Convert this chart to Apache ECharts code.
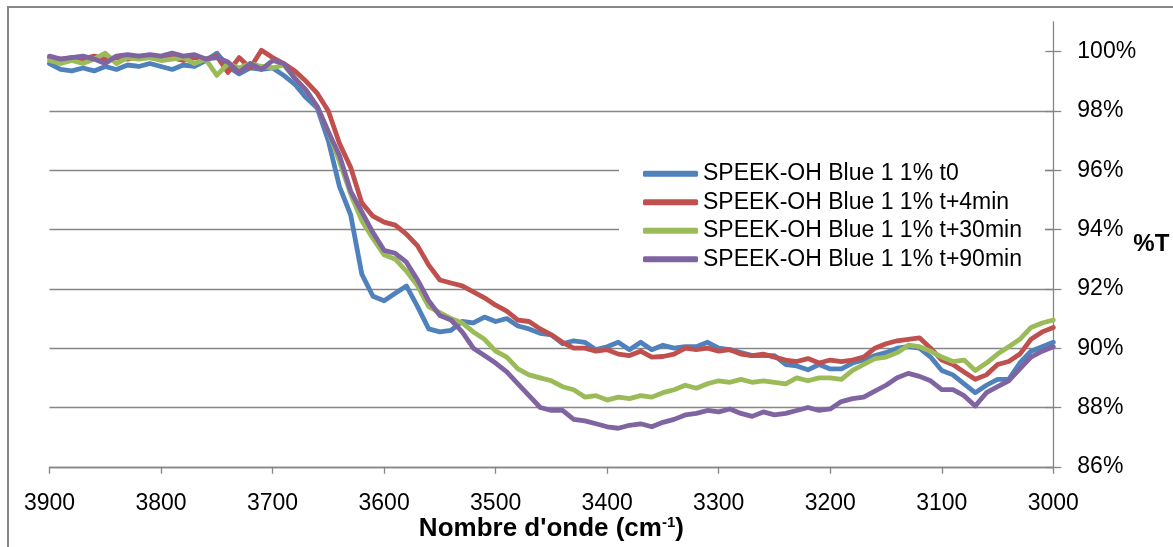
<!DOCTYPE html>
<html>
<head>
<meta charset="utf-8">
<script src="https://cdn.jsdelivr.net/npm/echarts@6/dist/echarts.min.js"></script>
<style>
  html, body { margin: 0; padding: 0; background: #fff; }
  #wrap { position: relative; width: 1173px; height: 547px; overflow: hidden; }
  #chart { position: absolute; left: 0; top: 0; width: 1173px; height: 547px; }
  #frame { position: absolute; left: 7px; top: 6px; width: 1200px; height: 600px;
           border-left: 2px solid #878787; border-top: 2px solid #878787; pointer-events: none; }
</style>
</head>
<body>
<div id="wrap"><div id="chart"></div><div id="frame"></div></div>
<script>
// Wavenumbers (cm-1)
const wavenumbers = [3900,3890,3880,3870,3860,3850,3840,3830,3820,3810,
  3800,3790,3780,3770,3760,3750,3740,3730,3720,3710,
  3700,3690,3680,3670,3660,3650,3640,3630,3620,3610,
  3600,3590,3580,3570,3560,3550,3540,3530,3520,3510,
  3500,3490,3480,3470,3460,3450,3440,3430,3420,3410,
  3400,3390,3380,3370,3360,3350,3340,3330,3320,3310,
  3300,3290,3280,3270,3260,3250,3240,3230,3220,3210,
  3200,3190,3180,3170,3160,3150,3140,3130,3120,3110,
  3100,3090,3080,3070,3060,3050,3040,3030,3020,3010,3000];

const seriesNames = ['SPEEK-OH Blue 1 1% t0','SPEEK-OH Blue 1 1% t+4min','SPEEK-OH Blue 1 1% t+30min','SPEEK-OH Blue 1 1% t+90min'];

const t0 = [99.6,99.4,99.35,99.45,99.35,99.5,99.4,99.55,99.5,99.6,
  99.5,99.4,99.55,99.5,99.7,99.95,99.5,99.25,99.45,99.4,
  99.45,99.2,98.9,98.45,98.1,97.0,95.45,94.5,92.5,91.75,
  91.6,91.85,92.1,91.4,90.65,90.55,90.6,90.9,90.85,91.05,
  90.9,91.0,90.75,90.65,90.5,90.45,90.15,90.25,90.2,89.95,
  90.05,90.2,89.95,90.2,89.95,90.1,90.0,90.05,90.05,90.2,
  90.0,89.95,89.85,89.75,89.75,89.75,89.45,89.4,89.27,89.45,
  89.3,89.3,89.5,89.6,89.75,89.85,90.0,90.05,90.0,89.7,
  89.25,89.1,88.8,88.5,88.75,88.95,88.95,89.5,89.9,90.05,90.2];

const t4 = [99.8,99.75,99.8,99.75,99.85,99.75,99.8,99.75,99.85,99.8,
  99.75,99.8,99.7,99.8,99.75,99.85,99.3,99.8,99.45,100.05,
  99.8,99.6,99.35,99.0,98.6,98.0,96.9,96.1,94.9,94.45,
  94.25,94.15,93.85,93.45,92.8,92.3,92.2,92.1,91.9,91.7,
  91.45,91.25,90.95,90.9,90.65,90.45,90.2,90.0,90.0,89.9,
  89.95,89.8,89.75,89.9,89.7,89.72,89.8,90.0,89.95,90.0,
  89.9,89.95,89.8,89.75,89.8,89.7,89.6,89.55,89.65,89.5,
  89.6,89.55,89.6,89.7,90.0,90.15,90.25,90.3,90.35,90.0,
  89.6,89.45,89.2,88.95,89.1,89.45,89.55,89.8,90.3,90.55,90.7];

const t30 = [99.7,99.6,99.7,99.6,99.75,99.95,99.6,99.8,99.75,99.8,
  99.7,99.75,99.8,99.6,99.75,99.2,99.6,99.45,99.6,99.5,
  99.45,99.55,99.1,98.7,98.15,97.3,96.3,95.2,94.3,93.7,
  93.15,93.0,92.6,92.1,91.4,91.2,91.0,90.85,90.55,90.3,
  89.9,89.7,89.3,89.1,89.0,88.9,88.7,88.6,88.35,88.4,
  88.25,88.35,88.3,88.4,88.35,88.5,88.6,88.75,88.65,88.8,
  88.9,88.85,88.95,88.85,88.9,88.85,88.8,89.0,88.9,89.0,
  89.0,88.95,89.25,89.45,89.65,89.7,89.85,90.1,90.05,89.9,
  89.7,89.55,89.6,89.25,89.5,89.8,90.05,90.3,90.7,90.85,90.95];

const t90 = [99.85,99.75,99.8,99.85,99.75,99.6,99.85,99.9,99.85,99.9,
  99.85,99.95,99.85,99.9,99.75,99.8,99.65,99.3,99.6,99.4,
  99.7,99.6,99.1,98.7,98.15,97.3,96.5,95.3,94.6,93.9,
  93.3,93.2,92.9,92.3,91.6,91.1,90.95,90.55,90.0,89.75,
  89.5,89.2,88.8,88.4,88.0,87.9,87.9,87.6,87.55,87.45,
  87.35,87.3,87.4,87.45,87.35,87.5,87.6,87.75,87.8,87.9,
  87.85,87.95,87.8,87.7,87.85,87.75,87.8,87.9,88.0,87.9,
  87.95,88.2,88.3,88.35,88.55,88.75,89.0,89.15,89.05,88.9,
  88.6,88.6,88.4,88.05,88.5,88.7,88.9,89.3,89.7,89.9,90.05];

const yTicks = [86,88,90,92,94,96,98,100];
const xTicks = [3900,3800,3700,3600,3500,3400,3300,3200,3100,3000];

const colors = ['#4F81BD','#C0504D','#9BBB59','#8064A2'];
const FONT = "'Liberation Sans', Arial, sans-serif";
const allValues = [t0, t4, t30, t90];

const chart = echarts.init(document.getElementById('chart'), null, {renderer: 'canvas'});

const series = allValues.map((vals, i) => ({
  name: seriesNames[i],
  type: 'line',
  data: wavenumbers.map((w, k) => [w, vals[k]]),
  showSymbol: false,
  symbol: 'none',
  smooth: false,
  color: colors[i],
  lineStyle: { width: 4.8, color: colors[i], cap: 'round', join: 'round' },
  z: 2 + i
}));

chart.setOption({
  animation: false,
  backgroundColor: 'transparent',
  textStyle: { fontFamily: FONT },
  grid: { left: 49.5, right: 119.7, top: 22, bottom: 80.2, containLabel: false, outerBoundsMode: 'none' },
  xAxis: {
    type: 'value', inverse: true, min: 3000, max: 3900, interval: 100,
    axisLine: { show: true, lineStyle: { color: '#868686', width: 1.3 } },
    axisTick: { show: true, inside: false, length: 7, lineStyle: { color: '#868686', width: 1.3 } },
    axisLabel: { show: true, margin: 25, fontSize: 23, color: '#000', fontFamily: FONT,
      customValues: xTicks, formatter: v => String(v) },
    splitLine: { show: false },
    name: "{b|Nombre d'onde (cm}{s|-1}{b|)}",
    nameLocation: 'middle', nameGap: 49, nameMoveOverlap: false,
    nameTextStyle: {
      rich: {
        b: { fontSize: 26, fontWeight: 'bold', color: '#000', fontFamily: FONT },
        s: { fontSize: 15, fontWeight: 'bold', color: '#000', fontFamily: FONT, verticalAlign: 'top', padding: [0,0,9,0] }
      }
    }
  },
  yAxis: [{
    type: 'value', position: 'right', min: 86, max: 101, interval: 2,
    axisLine: { show: true, lineStyle: { color: '#868686', width: 1.3 } },
    axisTick: { show: true, inside: false, length: 8, customValues: yTicks, lineStyle: { color: '#868686', width: 1.3 } },
    axisLabel: { show: true, margin: 24, fontSize: 23, color: '#000', fontFamily: FONT,
      customValues: yTicks, formatter: v => v + '%' },
    splitLine: { show: true, showMaxLine: false, lineStyle: { color: '#868686', width: 1.3 } },
    name: '%T', nameLocation: 'middle', nameRotate: 0, nameGap: 80, nameMoveOverlap: false,
    nameTextStyle: { fontSize: 24, fontWeight: 'bold', color: '#000', fontFamily: FONT }
  }, {
    type: 'value', position: 'right', min: 86, max: 101, interval: 2,
    axisLine: { show: false },
    axisTick: { show: true, inside: true, length: 8, customValues: yTicks, lineStyle: { color: '#868686', width: 1.3 } },
    axisLabel: { show: false },
    splitLine: { show: false }
  }],
  legend: {
    data: seriesNames,
    orient: 'vertical',
    left: 619, top: 156.5,
    padding: [3, 23, 3, 24],
    backgroundColor: '#fff',
    icon: 'roundRect',
    itemWidth: 55, itemHeight: 6, itemGap: 0,
    textStyle: { fontSize: 23, lineHeight: 28.5, color: '#000', fontFamily: FONT },
    z: 10
  },
  series: series
});
</script>
</body>
</html>
